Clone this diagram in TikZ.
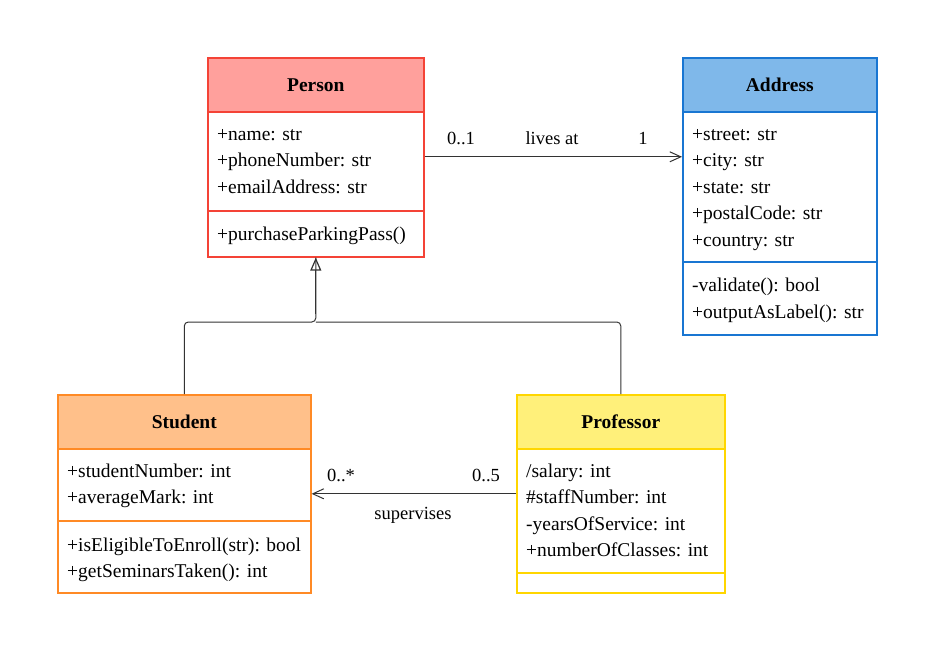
\documentclass[tikz,border=0pt]{standalone}
\usepackage{fontspec}
\setmainfont{Liberation Serif}
\usetikzlibrary{arrows.meta}
\definecolor{redB}{HTML}{F44336}
\definecolor{redF}{HTML}{FFA09C}
\definecolor{bluB}{HTML}{1976D2}
\definecolor{bluF}{HTML}{7FB8EA}
\definecolor{orgB}{HTML}{FF8A25}
\definecolor{orgF}{HTML}{FFC08A}
\definecolor{yelB}{HTML}{FFD600}
\definecolor{yelF}{HTML}{FFF07A}
\definecolor{lineC}{HTML}{333333}
\begin{document}
\begin{tikzpicture}[x=1pt,y=-1pt,
  part/.style={draw=#1, line width=1.6pt, inner sep=0pt, anchor=north west, fill=white},
  txt/.style={anchor=base west, inner sep=0pt, font=\fontsize{19.5}{24}\selectfont},
  hdr/.style={inner sep=0pt, font=\fontsize{19.5}{24}\selectfont\bfseries},
  lbl/.style={inner sep=0pt, anchor=base, font=\fontsize{18.5}{22}\selectfont},
  assoc/.style={draw=lineC, line width=1pt, -{Straight Barb[length=11pt,width=10pt]}},
  gen/.style={draw=lineC, line width=1pt, rounded corners=4pt}
]
\path[use as bounding box] (0,0) rectangle (933,650);

% Person
\node[part=redB, fill=redF, minimum width=216, minimum height=54] (personH) at (207,57) {};
\node[part=redB, minimum width=216, minimum height=99] (personA) at (207,111) {};
\node[part=redB, minimum width=216, minimum height=46] (personM) at (207,210) {};
\node[hdr] (personT) at (personH.center) {Person};
\node[txt] (pa1) at (217,140) {+name: str};
\node[txt] (pa2) at (217,166) {+phoneNumber: str};
\node[txt] (pa3) at (217,193) {+emailAddress: str};
\node[txt] (pm1) at (217,240) {+purchaseParkingPass()};

% Address
\node[part=bluB, fill=bluF, minimum width=194, minimum height=54] (addrH) at (682,57) {};
\node[part=bluB, minimum width=194, minimum height=150] (addrA) at (682,111) {};
\node[part=bluB, minimum width=194, minimum height=73] (addrM) at (682,261) {};
\node[hdr] (addrT) at (addrH.center) {Address};
\node[txt] (aa1) at (692,140) {+street: str};
\node[txt] (aa2) at (692,166) {+city: str};
\node[txt] (aa3) at (692,193) {+state: str};
\node[txt] (aa4) at (692,219) {+postalCode: str};
\node[txt] (aa5) at (692,246) {+country: str};
\node[txt] (am1) at (692,291) {-validate(): bool};
\node[txt] (am2) at (692,318) {+outputAsLabel(): str};

% Student
\node[part=orgB, fill=orgF, minimum width=253, minimum height=54] (studH) at (57,394) {};
\node[part=orgB, minimum width=253, minimum height=72] (studA) at (57,448) {};
\node[part=orgB, minimum width=253, minimum height=72] (studM) at (57,520) {};
\node[hdr] (studT) at (studH.center) {Student};
\node[txt] (sa1) at (67,477) {+studentNumber: int};
\node[txt] (sa2) at (67,503) {+averageMark: int};
\node[txt] (sm1) at (67,551) {+isEligibleToEnroll(str): bool};
\node[txt] (sm2) at (67,577) {+getSeminarsTaken(): int};

% Professor
\node[part=yelB, fill=yelF, minimum width=208, minimum height=54] (profH) at (516,394) {};
\node[part=yelB, minimum width=208, minimum height=124] (profA) at (516,448) {};
\node[part=yelB, minimum width=208, minimum height=20] (profM) at (516,572) {};
\node[hdr] (profT) at (profH.center) {Professor};
\node[txt] (qa1) at (526,477) {/salary: int};
\node[txt] (qa2) at (526,503) {\#staffNumber: int};
\node[txt] (qa3) at (526,530) {-yearsOfService: int};
\node[txt] (qa4) at (526,556) {+numberOfClasses: int};

% lives at
\coordinate (la) at ([yshift=4.5pt]personA.east);
\draw[assoc] (la) -- (la -| addrA.west);
\node[lbl] (l01) at (461,144) {0..1};
\node[lbl] (llv) at (552,144) {lives at};
\node[lbl] (l1) at (643,144) {1};

% generalization
\coordinate (j) at (personM.south |- 0,322);
\draw[gen] (studH.north) |- (j) -- (personM.south);
\draw[gen] (profH.north) |- (j);
\draw[draw=lineC, line width=1.2pt, -{Triangle[open,length=13pt,width=11pt]}] ([yshift=8pt]j) -- (personM.south);

% supervises
\coordinate (sv) at ([yshift=-9pt]studA.east);
\draw[assoc] (sv -| profA.west) -- (sv);
\node[lbl] (s0s) at (341,481) {0..*};
\node[lbl] (s05) at (486,481) {0..5};
\node[lbl] (ssv) at (413,519) {supervises};
\end{tikzpicture}
\end{document}
